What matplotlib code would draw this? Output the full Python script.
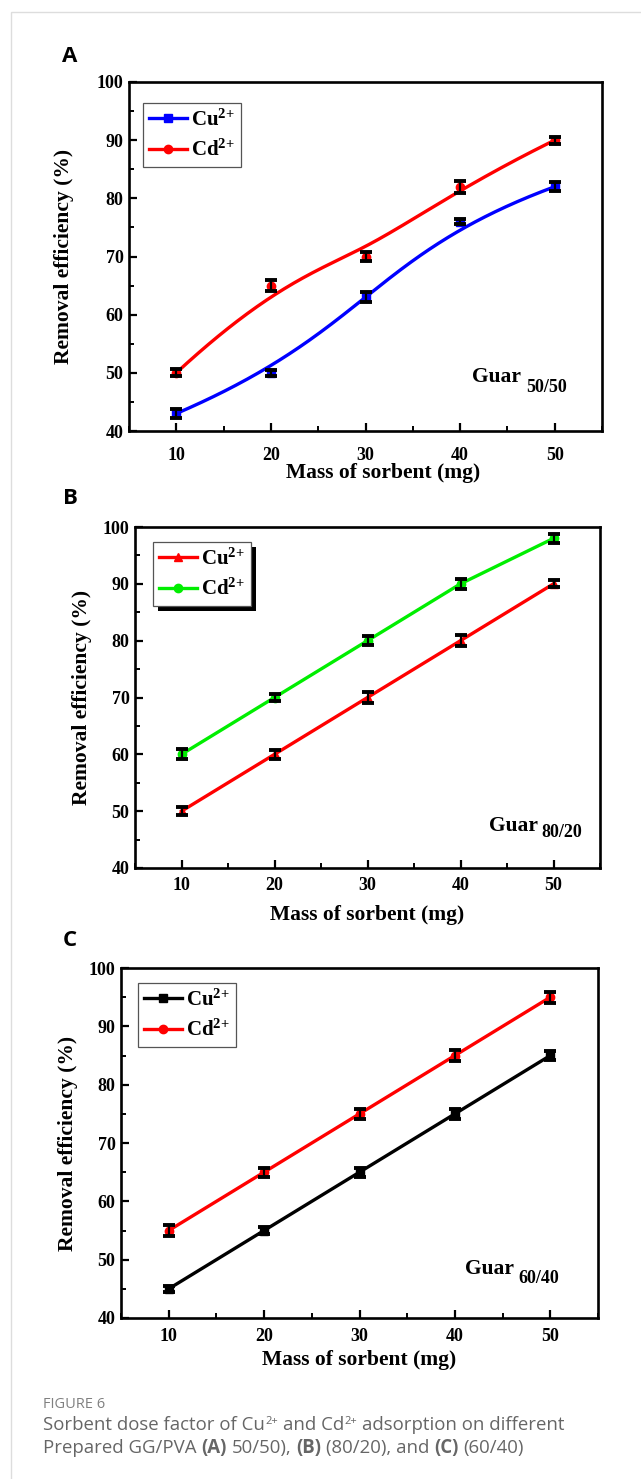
import numpy as np
import matplotlib
matplotlib.use('Agg')
import matplotlib.pyplot as plt
from matplotlib.lines import Line2D
from matplotlib.ticker import MultipleLocator
from matplotlib.patches import Rectangle

plt.rcParams['font.family'] = ['Liberation Serif', 'DejaVu Serif']
plt.rcParams['font.weight'] = 'bold'
plt.rcParams['mathtext.fontset'] = 'custom'
plt.rcParams['mathtext.rm'] = 'Liberation Serif:bold'
plt.rcParams['mathtext.bf'] = 'Liberation Serif:bold'
plt.rcParams['mathtext.it'] = 'Liberation Serif:bold'

# data
mass = [10, 20, 30, 40, 50]

a_cu = [43, 50, 63, 76, 82]
a_cu_err = [0.8, 0.5, 0.9, 0.4, 0.8]
a_cd = [50, 65, 70, 82, 90]
a_cd_err = [0.6, 0.9, 0.7, 1.0, 0.6]

b_cu = [50, 60, 70, 80, 90]
b_cu_err = [0.7, 0.8, 0.9, 1.0, 0.6]
b_cd = [60, 70, 80, 90, 98]
b_cd_err = [0.9, 0.6, 0.8, 0.85, 0.8]

c_cu = [45, 55, 65, 75, 85]
c_cu_err = [0.5, 0.55, 0.75, 0.8, 0.8]
c_cd = [55, 65, 75, 85, 95]
c_cd_err = [0.9, 0.8, 0.8, 0.9, 0.95]

W, H = 641, 1479
fig = plt.figure(figsize=(W / 100, H / 100), dpi=100)
renderer = fig.canvas.get_renderer()

# page frame
fig.patches.append(Rectangle((11 / W, -0.1), 1.2, 1 - 12 / H + 0.1, transform=fig.transFigure,
                             fill=False, edgecolor='#dddddd', lw=1))


def bspline(px, py, num=300):
    # clamped cubic B-spline using the data points as control points (Origin style)
    P = np.column_stack([px, py]).astype(float)
    n, k = len(P), 3
    knots = np.concatenate([np.zeros(k), np.linspace(0, 1, n - k + 1), np.ones(k)])
    t = np.linspace(0, 1, num)
    t[-1] -= 1e-9

    def N(i, d):
        if d == 0:
            return ((knots[i] <= t) & (t < knots[i + 1])).astype(float)
        out = np.zeros_like(t)
        d1 = knots[i + d] - knots[i]
        d2 = knots[i + d + 1] - knots[i + 1]
        if d1 > 0:
            out += (t - knots[i]) / d1 * N(i, d - 1)
        if d2 > 0:
            out += (knots[i + d + 1] - t) / d2 * N(i + 1, d - 1)
        return out

    B = np.array([N(i, k) for i in range(n)])
    c = B.T @ P
    return c[:, 0], c[:, 1]


def px_rect(l, r, t, b):
    return [l / W, 1 - b / H, (r - l) / W, (b - t) / H]


def panel(rect, series, smooth, letter, letter_xy, guar, guar_pos, sub_pos,
          ylab_x, xlab_xy, xpad, leg_anchor, shadow):
    ax = fig.add_axes(rect)
    handles = []
    for vals, err, color, marker, label in series:
        if smooth:
            xs, ys = bspline(mass, vals)
        else:
            xs, ys = mass, vals
        ax.plot(xs, ys, color=color, lw=2.4, zorder=2)
        ax.plot(mass, vals, ls='none', marker=marker, color=color, ms=6, zorder=3)
        ax.errorbar(mass, vals, yerr=err, fmt='none', ecolor='black', elinewidth=1.6,
                    capsize=4.5, capthick=2.8, zorder=4)
        handles.append(Line2D([], [], color=color, lw=2.4, marker=marker, ms=6, label=label))

    ax.set_xlim(5, 55)
    ax.set_ylim(40, 100)
    ax.set_xticks(mass)
    ax.set_yticks(np.arange(40, 101, 10))
    ax.xaxis.set_minor_locator(MultipleLocator(5))
    ax.yaxis.set_minor_locator(MultipleLocator(5))
    ax.tick_params(which='major', direction='in', length=6, width=1.6, labelsize=13)
    ax.tick_params(which='minor', direction='in', length=3.5, width=1.4)
    ax.tick_params(axis='x', which='major', pad=xpad)
    ax.tick_params(axis='y', which='major', pad=4)
    for s in ax.spines.values():
        s.set_linewidth(1.9)

    ax.set_ylabel('Removal efficiency (%)', fontsize=15.5, fontweight='bold')
    ax.yaxis.set_label_coords(ylab_x, 0.5)
    ax.set_xlabel('Mass of sorbent (mg)', fontsize=15.5, fontweight='bold')
    ax.xaxis.set_label_coords(*xlab_xy)
    ax.xaxis.label.set_va('center')

    leg = ax.legend(handles=handles, loc='upper left', bbox_to_anchor=leg_anchor,
                    borderaxespad=0, fancybox=False, edgecolor='#555555', framealpha=1,
                    fontsize=15, handlelength=1.8, handletextpad=0.2, labelspacing=0.45,
                    borderpad=0.3)
    leg.get_frame().set_linewidth(0.9)
    leg.set_zorder(6)
    if shadow:
        bb = leg.get_window_extent(renderer).transformed(ax.transAxes.inverted())
        dx = 5 / (rect[2] * W)
        dy = 5 / (rect[3] * H)
        ax.add_patch(Rectangle((bb.x0 + dx, bb.y0 - dy), bb.width, bb.height,
                               transform=ax.transAxes, facecolor='black', edgecolor='none',
                               zorder=5.5))

    ax.text(guar_pos[0], guar_pos[1], 'Guar', transform=ax.transAxes, fontsize=15.5,
            fontweight='bold', ha='left', va='center')
    ax.text(sub_pos[0], sub_pos[1], guar, transform=ax.transAxes, fontsize=13,
            fontweight='bold', ha='left', va='center')

    fig.text(letter_xy[0] / W, 1 - letter_xy[1] / H, letter, fontfamily=['Open Sans', 'DejaVu Sans'],
             fontsize=16, fontweight='bold', ha='center', va='center')
    return ax


cu_lab = r'$\mathbf{Cu}^{\mathbf{2{+}}}$'
cd_lab = r'$\mathbf{Cd}^{\mathbf{2{+}}}$'

panel(px_rect(129, 602, 82, 431),
      [(a_cu, a_cu_err, '#0000ff', 's', cu_lab), (a_cd, a_cd_err, '#ff0000', 'o', cd_lab)],
      True, 'A', (70, 57), '50/50', (0.725, 0.155), (0.839, 0.126),
      -0.116, (0.537, -0.12), 11.5, (0.03, 0.94), False)

panel(px_rect(135, 600, 527, 868),
      [(b_cu, b_cu_err, '#ff0000', '^', cu_lab), (b_cd, b_cd_err, '#00ee00', 'o', cd_lab)],
      False, 'B', (70, 498), '80/20', (0.761, 0.122), (0.875, 0.103),
      -0.092, (0.5, -0.138), 6.5, (0.039, 0.956), True)

panel(px_rect(121, 598, 968, 1318),
      [(c_cu, c_cu_err, '#000000', 's', cu_lab), (c_cd, c_cd_err, '#ff0000', 'o', cd_lab)],
      False, 'C', (70, 940), '60/40', (0.721, 0.141), (0.834, 0.114),
      -0.09, (0.5, -0.12), 7.5, (0.036, 0.957), False)

# caption, drawn run by run so parts can be bold or raised
cap_font = ['Open Sans', 'DejaVu Sans']


def text_width(s, **kw):
    t = fig.text(0, 0, s, transform=None, **kw)
    w = t.get_window_extent(renderer).width
    t.remove()
    return w


def runs(x, y, items, size, color):
    sp = text_width('n n', fontsize=size, family=cap_font, fontweight='normal') - \
        text_width('nn', fontsize=size, family=cap_font, fontweight='normal')
    for s, kind, gap in items:
        kw = dict(family=cap_font, color=color, va='baseline', ha='left')
        if kind == 'sup':
            t = fig.text(x, y + 6.5, s, transform=None, fontsize=size * 0.6, fontweight='normal', **kw)
        else:
            t = fig.text(x, y, s, transform=None, fontsize=size,
                         fontweight='bold' if kind == 'bold' else 'normal', **kw)
        x = t.get_window_extent(renderer).x1 + (sp if gap else 0.5)


fig.text(43 / W, 1 - 1405 / H, 'FIGURE 6', family=cap_font, fontsize=10.5, color='#808080',
         va='center', ha='left', fontweight='normal')
runs(43, H - 1430, [('Sorbent dose factor of Cu', 'n', False), ('2+', 'sup', True),
                    ('and Cd', 'n', False), ('2+', 'sup', True),
                    ('adsorption on different', 'n', False)], 13.4, '#666666')
runs(43, H - 1453, [('Prepared GG/PVA', 'n', True), ('(A)', 'bold', True), ('50/50),', 'n', True),
                    ('(B)', 'bold', True), ('(80/20), and', 'n', True), ('(C)', 'bold', True),
                    ('(60/40)', 'n', False)], 13.4, '#666666')

fig.savefig('out.png', dpi=100)
